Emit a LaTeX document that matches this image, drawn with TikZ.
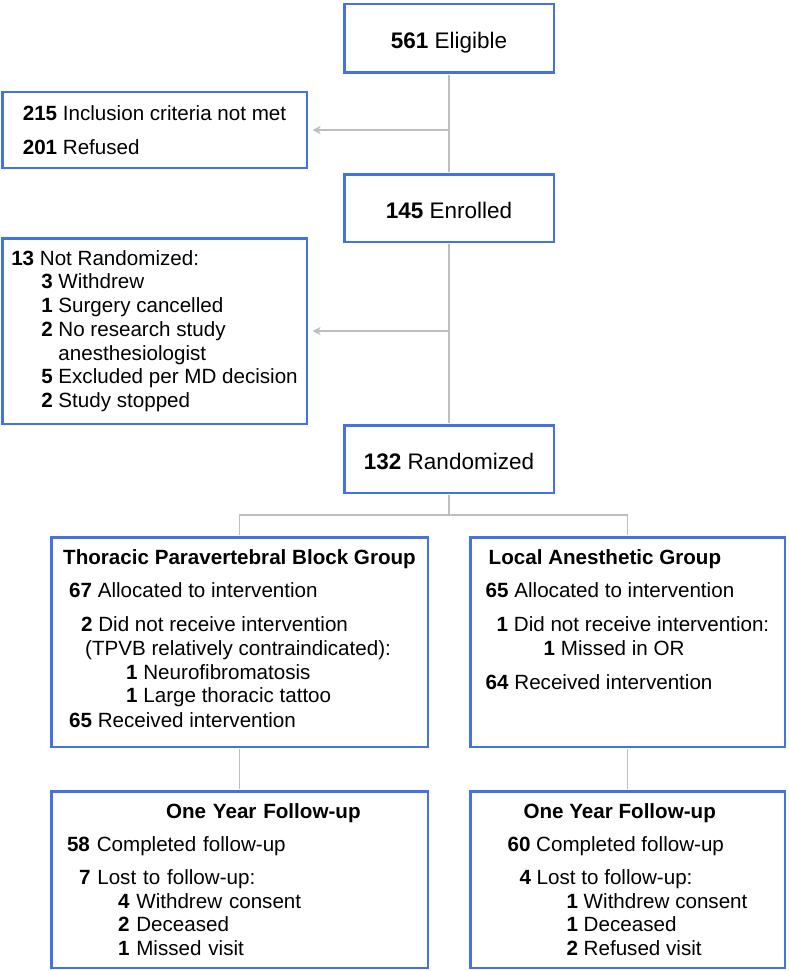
\documentclass[tikz,border=0pt]{standalone}
\usepackage{fontspec}
\setmainfont{Liberation Sans}
\usetikzlibrary{arrows.meta,positioning}
\definecolor{boxblue}{RGB}{68,114,224}
\definecolor{linkgray}{RGB}{190,190,190}
\newcommand{\nb}[1]{\textbf{#1}}

\begin{document}
\begin{tikzpicture}[x=1pt,y=-1pt,node distance=169.5pt,
        main box/.style={draw=boxblue,line width=2.5pt,rectangle,align=left,
          font=\fontsize{20.6}{23.7}\selectfont,
          minimum width=209.5pt,minimum height=67.5pt},
        count box/.style={main box,font=\fontsize{22.5}{26}\selectfont,
          text height=21pt,text depth=0pt},
        side box/.style={main box,minimum width=304.5pt},
        link/.style={draw=linkgray,line width=1.5pt,shorten <=1.2pt,shorten >=1.2pt},
        drop/.style={link,-{Stealth[length=8pt,width=8pt,inset=2pt]},
          shorten <=0pt,shorten >=4.5pt}]

        \useasboundingbox (0,0) rectangle (789,971);

        % Define boxes
        \node[count box,minimum height=68.5pt] (elig) at (449,38.5) {\nb{561} Eligible};
        \node[count box] (enr) [below of=elig] {\nb{145} Enrolled};
        \node[count box] (rand) [below of=enr,node distance=251pt] {\nb{132} Randomized};

        \node[side box,minimum height=75.5pt] (excl) at (154.5,130)
            {\nb{215} Inclusion criteria not met\\[10.3pt]
             \nb{201} Refused};
        \node[side box,minimum height=185.5pt] (notrand) at (154.5,331)
            {\nb{13} Not Randomized:\\
             \hspace*{30pt}\nb{3} Withdrew\\
             \hspace*{30pt}\nb{1} Surgery cancelled\\
             \hspace*{30pt}\nb{2} No research study\\
             \hspace*{30pt}\phantom{\nb{2} }anesthesiologist\\
             \hspace*{30pt}\nb{5} Excluded per MD decision\\
             \hspace*{30pt}\nb{2} Study stopped};

        \node[main box,minimum width=376.5pt,minimum height=209.5pt] (tpvb) at (239.5,642)
            {\nb{Thoracic Paravertebral Block Group}\\[9.3pt]
             \hspace*{6pt}\nb{67} Allocated to intervention\\[10.3pt]
             \hspace*{18pt}\nb{2} Did not receive intervention\\
             \hspace*{22pt}(TPVB relatively contraindicated):\\
             \hspace*{63pt}\nb{1} Neurofibromatosis\\
             \hspace*{63pt}\nb{1} Large thoracic tattoo\\[1pt]
             \hspace*{6pt}\nb{65} Received intervention\\[-17.2pt]
             \mbox{}};
        \node[main box,minimum width=314.5pt,minimum height=209.5pt] (local) at (627.5,642)
            {\hspace*{3pt}\nb{Local Anesthetic Group}\\[9.3pt]
             \nb{65} Allocated to intervention\\[10.3pt]
             \hspace*{11pt}\nb{1} Did not receive intervention:\\
             \hspace*{58pt}\nb{1} Missed in OR\\[10.3pt]
             \nb{64} Received intervention\\[21pt]
             \mbox{}};

        \node[main box,minimum width=376.5pt,minimum height=176.5pt,text width=345pt] (fuL) at (239.5,879.5)
            {\hspace*{99pt}\nb{One Year Follow-up}\\[9.3pt]
             \nb{58} Completed follow-up\\[9.3pt]
             \hspace*{12pt}\nb{7} Lost to follow-up:\\
             \hspace*{51pt}\nb{4} Withdrew consent\\
             \hspace*{51pt}\nb{2} Deceased\\
             \hspace*{51pt}\nb{1} Missed visit};
        \node[main box,minimum width=314.5pt,minimum height=176.5pt] (fuR) at (627.5,879.5)
            {\hspace*{16pt}\nb{One Year Follow-up}\\[9.3pt]
             \nb{60} Completed follow-up\\[9.3pt]
             \hspace*{12pt}\nb{4} Lost to follow-up:\\
             \hspace*{59pt}\nb{1} Withdrew consent\\
             \hspace*{59pt}\nb{1} Deceased\\
             \hspace*{59pt}\nb{2} Refused visit};

        \coordinate (split) at (449,515);

        % Draw edges
        \draw[link] (elig) -- (enr);
        \draw[drop] (elig |- excl.east) -- (excl.east);
        \draw[link] (enr) -- (rand);
        \draw[drop] (enr |- notrand.east) -- (notrand.east);
        \draw[link,shorten >=0pt] (rand) -- (split);
        \draw[link] (tpvb.north) |- (split) -| (local.north);
        \draw[link] (tpvb) -- (fuL);
        \draw[link] (local) -- (fuR);

\end{tikzpicture}
\end{document}
